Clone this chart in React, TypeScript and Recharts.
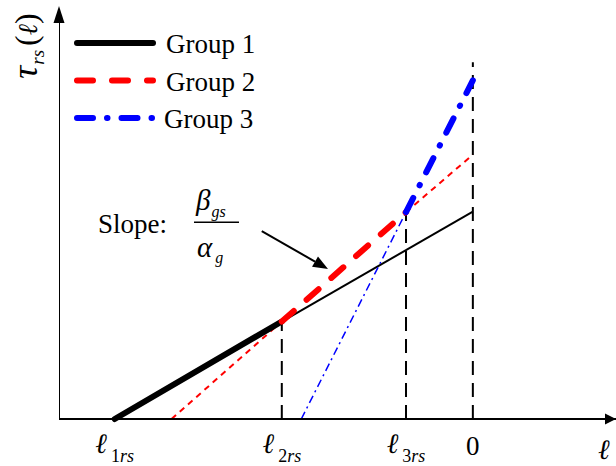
import React from "react";
import { LineChart, Line, XAxis, YAxis, ReferenceDot, ReferenceLine } from "recharts";

// x positions (abstract units on the ℓ axis) and y values (τ_rs(ℓ))
const tickValues = [10, 40, 62.3, 74.3, 97.8];
const tickMain = ["ℓ", "ℓ", "ℓ", "0", "ℓ"];
const tickSubNum = ["1", "2", "3", "", ""];
const tickSubIt = ["rs", "rs", "rs", "", ""];

const group1Thick = [ { x: 10, y: 0 }, { x: 40, y: 23.6 } ];
const group1Thin = [ { x: 40, y: 23.6 }, { x: 74.3, y: 50.2 } ];
const group2ThinA = [ { x: 20.2, y: 0 }, { x: 40, y: 23.6 } ];
const group2Thick = [ { x: 40, y: 23.6 }, { x: 62.3, y: 50.1 } ];
const group2ThinB = [ { x: 62.3, y: 50.1 }, { x: 74.3, y: 64 } ];
const group3Thin = [ { x: 43.5, y: 0 }, { x: 62.3, y: 50.1 } ];
const group3Thick = [ { x: 62.3, y: 50.1 }, { x: 74.3, y: 82 } ];
const guide2 = [ { x: 40, y: 0 }, { x: 40, y: 23.6 } ];
const guide3 = [ { x: 62.3, y: 0 }, { x: 62.3, y: 50.1 } ];
const guide0 = [ { x: 74.3, y: 0 }, { x: 74.3, y: 86.4 } ];
const yAxisLine = [ { x: 0, y: 0 }, { x: 0, y: 97 } ];

const legendNames = ["Group 1", "Group 2", "Group 3"];
const legendColors = ["#000000", "#ff0000", "#0000ff"];
const legendDash = [undefined, "16 19", "16 14 0.5 14"];

const arrowStart = { x: 36.4, y: 45.5 };
const arrowEnd = { x: 48.3, y: 36.3 };
const slopeAnchor = { x: 7.0, y: 45.0 };

const SERIF = "'Liberation Serif', 'Times New Roman', serif";
const ELL = "'DejaVu Serif', serif";

const XTick = (props: any) => {
  const { x, payload, index } = props;
  const i = tickValues.indexOf(payload.value);
  const k = i >= 0 ? i : index;
  const isLast = k === tickValues.length - 1;
  const isZero = tickMain[k] === "0";
  const baseY = isLast ? 459 : isZero ? 455 : 453;
  return (
    <text x={x} y={baseY} textAnchor="middle" fontFamily={SERIF} fontSize={27} fill="#000">
      <tspan fontStyle={isZero ? "normal" : "italic"} fontFamily={isZero ? SERIF : ELL} fontSize={isZero ? 27 : 28}>
        {tickMain[k]}
      </tspan>
      {tickSubNum[k] ? (
        <>
          <tspan dx={4} dy={9} fontSize={18}>{tickSubNum[k]}</tspan>
          <tspan fontSize={18} fontStyle="italic">{tickSubIt[k]}</tspan>
        </>
      ) : null}
    </text>
  );
};

const YLabel = (props: any) => {
  const { cx } = props;
  const tx = cx - 22;
  const ty = 46;
  return (
    <text
      x={tx}
      y={ty}
      transform={`rotate(-90, ${tx}, ${ty})`}
      textAnchor="middle"
      fontFamily={SERIF}
      fontSize={32}
      fill="#000"
    >
      <tspan fontStyle="italic" fontSize={36}>τ</tspan>
      <tspan fontSize={19} fontStyle="italic" dy={7} dx={1}>rs</tspan>
      <tspan dy={-7} dx={4}>(</tspan>
      <tspan fontStyle="italic" fontFamily={ELL} fontSize={27}>ℓ</tspan>
      <tspan>)</tspan>
    </text>
  );
};

const XArrow = (props: any) => {
  const { cx, cy } = props;
  return <polygon points={`${cx},${cy} ${cx - 11},${cy - 5.5} ${cx - 11},${cy + 5.5}`} fill="#000" />;
};

const YArrow = (props: any) => {
  const { cx, cy } = props;
  return (
    <g>
      <polygon points={`${cx},${cy} ${cx - 5.5},${cy + 17} ${cx + 5.5},${cy + 17}`} fill="#000" />
      <YLabel cx={cx} cy={cy} />
    </g>
  );
};

const SlopeText = (props: any) => {
  const { cx, cy } = props;
  return (
    <g fontFamily={SERIF} fill="#000">
      <text x={cx} y={cy} fontSize={27}>Slope:</text>
      <text x={cx + 98} y={cy - 23} fontSize={29} fontStyle="italic">
        β<tspan fontSize={16} dy={7} dx={1}>gs</tspan>
      </text>
      <line x1={cx + 96} x2={cx + 141} y1={cy - 11} y2={cy - 11} stroke="#000" strokeWidth={1.5} />
      <text x={cx + 99} y={cy + 24} fontSize={29} fontStyle="italic">
        α<tspan fontSize={16} dy={6} dx={3}>g</tspan>
      </text>
    </g>
  );
};

const ArrowShape = (props: any) => {
  const { x1, y1, x2, y2 } = props;
  const ang = Math.atan2(y2 - y1, x2 - x1);
  const len = 15;
  const hw = 6;
  const bx = x2 - len * Math.cos(ang);
  const by = y2 - len * Math.sin(ang);
  const px = -Math.sin(ang) * hw;
  const py = Math.cos(ang) * hw;
  return (
    <g>
      <line x1={x1} y1={y1} x2={bx} y2={by} stroke="#000" strokeWidth={2} />
      <polygon points={`${x2},${y2} ${bx + px},${by + py} ${bx - px},${by - py}`} fill="#000" />
    </g>
  );
};

const LegendBox = () => (
  <g fontFamily={SERIF}>
    {legendNames.map((n, i) => {
      const yy = 43 + i * 37.5;
      return (
        <g key={n}>
          <line
            x1={77}
            x2={153}
            y1={yy}
            y2={yy}
            stroke={legendColors[i]}
            strokeWidth={6}
            strokeLinecap="round"
            strokeDasharray={legendDash[i]}
          />
          <text x={i === 2 ? 164 : 166} y={yy + 10} fontSize={27} fill="#000">{n}</text>
        </g>
      );
    })}
  </g>
);

const lineCommon = {
  type: "linear" as const,
  dataKey: "y",
  dot: false,
  activeDot: false,
  isAnimationActive: false,
  legendType: "none" as const,
};

export default function App() {
  return (
    <div style={{ position: "absolute", left: 0, top: 0, width: 616, height: 466, background: "#fff" }}>
      <LineChart width={616} height={466} margin={{ top: 6, right: 0, left: 58, bottom: 0 }}>
        <XAxis
          type="number"
          dataKey="x"
          domain={[0, 100]}
          ticks={tickValues}
          interval={0}
          allowDataOverflow
          height={47}
          tickLine={false}
          axisLine={{ stroke: "#000", strokeWidth: 2 }}
          tick={<XTick />}
        />
        <YAxis
          type="number"
          dataKey="y"
          domain={[0, 100]}
          width={1}
          tick={false}
          tickLine={false}
          axisLine={false}
        />
        <Line {...lineCommon} data={yAxisLine} stroke="#000" strokeWidth={2} />
        <Line {...lineCommon} data={guide2} stroke="#000" strokeWidth={2} strokeDasharray="14 8" />
        <Line {...lineCommon} data={guide3} stroke="#000" strokeWidth={2} strokeDasharray="14 8" />
        <Line {...lineCommon} data={guide0} stroke="#000" strokeWidth={2} strokeDasharray="14 8" />
        <Line {...lineCommon} data={group1Thin} stroke="#000" strokeWidth={2} />
        <Line {...lineCommon} data={group2ThinA} stroke="#ff0000" strokeWidth={2} strokeDasharray="6 5" />
        <Line {...lineCommon} data={group2ThinB} stroke="#ff0000" strokeWidth={2} strokeDasharray="6 5" />
        <Line {...lineCommon} data={group3Thin} stroke="#0000ff" strokeWidth={1.5} strokeDasharray="8 4 2 4" />
        <Line {...lineCommon} data={group1Thick} stroke="#000" strokeWidth={6} strokeLinecap="round" />
        <Line {...lineCommon} data={group2Thick} stroke="#ff0000" strokeWidth={6} strokeLinecap="round" strokeDasharray="16 17" />
        <Line {...lineCommon} data={group3Thick} stroke="#0000ff" strokeWidth={6} strokeLinecap="round" strokeDasharray="16 14 0.5 14" />
        <ReferenceDot x={100} y={0} ifOverflow="visible" shape={<XArrow />} />
        <ReferenceDot x={0} y={100} ifOverflow="visible" shape={<YArrow />} />
        <ReferenceDot x={slopeAnchor.x} y={slopeAnchor.y} ifOverflow="visible" shape={<SlopeText />} />
        <ReferenceLine
          segment={[arrowStart, arrowEnd]}
          ifOverflow="visible"
          shape={(p: any) => <ArrowShape {...p} />}
        />
        <LegendBox />
      </LineChart>
    </div>
  );
}
